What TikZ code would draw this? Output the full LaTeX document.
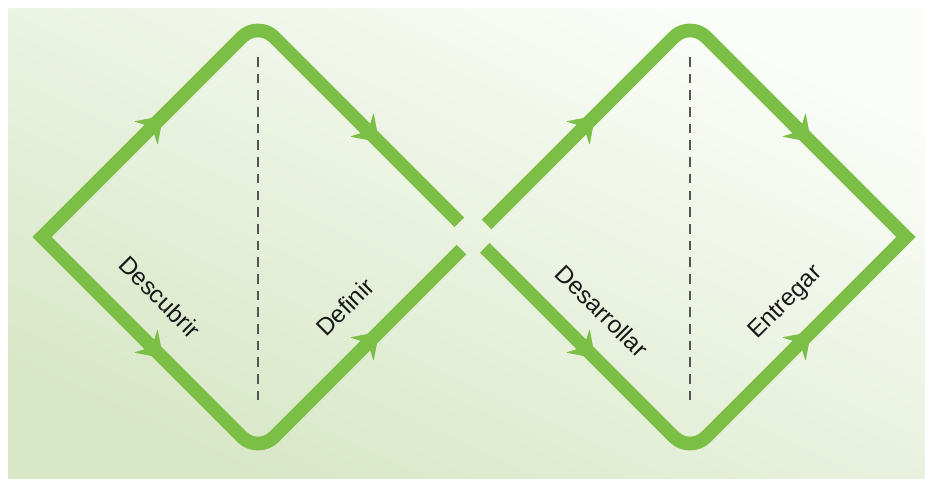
\documentclass[tikz,border=0pt]{standalone}
\usepackage{fontspec}
\setsansfont{Liberation Sans}
\usepackage{tikz}
\usetikzlibrary{positioning, arrows.meta, calc, decorations.markings}

\definecolor{trackgreen}{HTML}{7CBF47}
\definecolor{bgtop}{HTML}{FBFDF9}
\definecolor{bgbottom}{HTML}{D8E7C6}
\definecolor{guidegray}{HTML}{555555}

\begin{document}
\begin{tikzpicture}[
    x=0.02cm, y=-0.02cm,
    track/.style={draw=trackgreen, line width=7.8pt, line join=miter},
    flow/.style={postaction={decorate}, decoration={markings, mark=at position 0.56 with {\arrow[trackgreen]{Stealth[length=14pt, width=19pt, inset=5pt, round]}}}},
    guide/.style={draw=guidegray, line width=0.6pt, dash pattern=on 5.5pt off 4pt},
    phase/.style={font=\fontsize{13.8}{16}\selectfont\sffamily, text=black!90, inner sep=0pt},
]

% === FRAME ===
\useasboundingbox (0,0) rectangle (925,479);
\shade[top color=bgtop, bottom color=bgbottom, shading angle=-25] (8,9) rectangle (925,479);

% === CORNERS ===
\coordinate (l1) at (42,237);
\coordinate (t1) at (258,21);
\coordinate (b1) at (258,453);
\coordinate (x)  at (474,237);
\coordinate (t2) at (690,21);
\coordinate (b2) at (690,453);
\coordinate (r2) at (906,237);

% gap ends round the crossing
\coordinate (g1u) at ($(x)!0.068!(t1)$);
\coordinate (g1d) at ($(x)!0.058!(b1)$);
\coordinate (g2u) at ($(x)!0.058!(t2)$);
\coordinate (g2d) at ($(x)!0.050!(b2)$);

% === DIAMONDS ===
\draw[track] (g1d) [rounded corners=13pt] -- (b1) [sharp corners] -- (l1) [rounded corners=13pt] -- (t1) [sharp corners] -- (g1u);
\draw[track] (g2d) [rounded corners=13pt] -- (b2) [sharp corners] -- (r2) [rounded corners=13pt] -- (t2) [sharp corners] -- (g2u);

% arrow heads
\path[flow] (l1) -- (t1);
\path[flow] (t1) -- (x);
\path[flow] (l1) -- (b1);
\path[flow] (b1) -- (x);
\path[flow] (x) -- (t2);
\path[flow] (t2) -- (r2);
\path[flow] (x) -- (b2);
\path[flow] (b2) -- (r2);

% === DASHED MIDLINES ===
\coordinate (d1a) at (258,57);
\coordinate (d1b) at (258,402);
\coordinate (d2a) at (690,57);
\coordinate (d2b) at (690,402);
\draw[guide] (d1a) -- (d1b);
\draw[guide] (d2a) -- (d2b);

% === PHASE LABELS ===
\node[phase, rotate=-45] (descubrir) at (160,297) {Descubrir};
\node[phase, rotate=45] (definir) at (345,307) {Definir};
\node[phase, rotate=-45] (desarrollar) at (602,311) {Desarrollar};
\node[phase, rotate=45] (entregar) at (786,303) {Entregar};

\end{tikzpicture}
\end{document}
